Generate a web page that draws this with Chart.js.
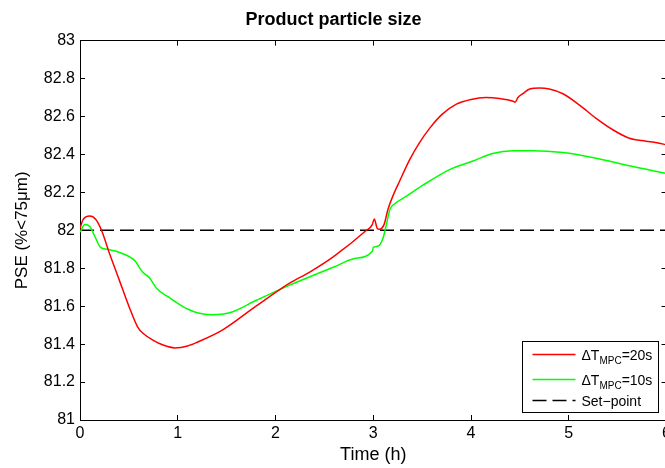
<!DOCTYPE html>
<html>
<head>
<meta charset="utf-8">
<script src="https://cdn.jsdelivr.net/npm/chart.js@4.4.0/dist/chart.umd.min.js"></script>
<style>
  html, body { margin: 0; padding: 0; background: #fff; overflow: hidden; }
  #wrap { width: 680px; height: 468px; }
</style>
</head>
<body>
<div id="wrap"><canvas id="pseChart"></canvas></div>
<script>
// time (h) and PSE values
const timeSlow = [0, 0.03, 0.1, 0.16, 0.22, 0.3, 0.4, 0.5, 0.59, 0.65, 0.75, 0.85, 0.97, 1.1, 1.2, 1.46, 1.8, 2.14, 2.35, 2.59, 2.93, 2.99, 3.01, 3.04, 3.06, 3.11, 3.15, 3.2, 3.27, 3.37, 3.47, 3.58, 3.7, 3.85, 4.0, 4.15, 4.29, 4.43, 4.45, 4.48, 4.53, 4.6, 4.7, 4.8, 4.94, 5.11, 5.28, 5.45, 5.62, 5.79, 5.9, 6.0];
const pseSlow = [82.01, 82.055, 82.075, 82.058, 82.0, 81.88, 81.74, 81.60, 81.49, 81.455, 81.42, 81.395, 81.38, 81.39, 81.41, 81.475, 81.60, 81.72, 81.78, 81.86, 82.0, 82.03, 82.06, 82.01, 82.005, 82.03, 82.11, 82.18, 82.26, 82.37, 82.46, 82.54, 82.61, 82.665, 82.69, 82.70, 82.695, 82.68, 82.675, 82.70, 82.72, 82.745, 82.75, 82.745, 82.72, 82.66, 82.59, 82.53, 82.485, 82.47, 82.462, 82.45];

const timeFast = [0, 0.05, 0.1, 0.15, 0.21, 0.28, 0.42, 0.56, 0.64, 0.71, 0.79, 0.9, 1.0, 1.1, 1.2, 1.35, 1.53, 1.8, 2.14, 2.35, 2.59, 2.8, 2.99, 3.0, 3.05, 3.1, 3.13, 3.17, 3.22, 3.34, 3.5, 3.78, 4.02, 4.22, 4.43, 4.63, 4.94, 5.28, 5.62, 6.0];
const pseFast = [81.99, 82.03, 82.02, 81.97, 81.91, 81.90, 81.88, 81.84, 81.78, 81.75, 81.69, 81.65, 81.615, 81.585, 81.565, 81.555, 81.565, 81.63, 81.71, 81.755, 81.805, 81.85, 81.89, 81.91, 81.917, 81.96, 82.02, 82.11, 82.14, 82.18, 82.235, 82.32, 82.365, 82.405, 82.42, 82.42, 82.41, 82.38, 82.34, 82.30];

const timeSet = [0, 6];
const pseSet = [82, 82];

const seriesLabels = ["ΔT_{MPC}=20s", "ΔT_{MPC}=10s", "Set\u2212point"];
const xTicks = [0, 1, 2, 3, 4, 5, 6];
const yTicks = [81, 81.2, 81.4, 81.6, 81.8, 82, 82.2, 82.4, 82.6, 82.8, 83];

const FONT = "'Liberation Sans', Arial, Helvetica, sans-serif";
Chart.defaults.font.family = FONT;
Chart.defaults.color = "#000";

function toPoints(xs, ys) {
  return xs.map((x, i) => ({ x, y: ys[i] }));
}

// matlab style legend with subscripts
const legendBox = {
  id: "legendBox",
  afterDraw(chart) {
    const { ctx, chartArea } = chart;
    const w = 136, h = 71;
    const x0 = Math.round(chartArea.right - 9 - w) + 0.5;
    const y0 = Math.round(chartArea.bottom - 8 - h) + 0.5;
    const rows = [13, 38, 59];
    ctx.save();
    ctx.fillStyle = "#fff";
    ctx.fillRect(x0, y0, w, h);
    ctx.strokeStyle = "#000";
    ctx.lineWidth = 1;
    ctx.setLineDash([]);
    ctx.strokeRect(x0, y0, w, h);

    chart.data.datasets.forEach((ds, i) => {
      const y = y0 + rows[i];
      ctx.beginPath();
      ctx.setLineDash(ds.borderDash || []);
      ctx.strokeStyle = ds.borderColor;
      ctx.lineWidth = ds.borderWidth;
      ctx.moveTo(x0 + 10, y);
      ctx.lineTo(x0 + 53, y);
      ctx.stroke();
      ctx.setLineDash([]);

      ctx.fillStyle = "#000";
      ctx.textBaseline = "alphabetic";
      ctx.textAlign = "left";
      let tx = x0 + 59;
      const m = ds.label.match(/^(.*?)_\{(.*?)\}(.*)$/);
      if (m) {
        ctx.font = "14px " + FONT;
        ctx.fillText(m[1], tx, y + 5);
        tx += ctx.measureText(m[1]).width;
        ctx.font = "10px " + FONT;
        ctx.fillText(m[2], tx, y + 9);
        tx += ctx.measureText(m[2]).width;
        ctx.font = "14px " + FONT;
        ctx.fillText(m[3], tx, y + 5);
      } else {
        ctx.font = "14px " + FONT;
        ctx.fillText(ds.label, tx, y + 5);
      }
    });
    ctx.restore();
  }
};

const tickGrid = { drawOnChartArea: false, drawTicks: true, tickLength: -5, color: "#000", lineWidth: 1 };
const axisBorder = { display: true, color: "#000", width: 1 };

new Chart(document.getElementById("pseChart"), {
  type: "line",
  data: {
    datasets: [
      {
        label: seriesLabels[0],
        data: toPoints(timeSlow, pseSlow),
        borderColor: "#ff0000",
        borderWidth: 1.5,
        pointRadius: 0,
        cubicInterpolationMode: "monotone"
      },
      {
        label: seriesLabels[1],
        data: toPoints(timeFast, pseFast),
        borderColor: "#00ff00",
        borderWidth: 1.5,
        pointRadius: 0,
        cubicInterpolationMode: "monotone"
      },
      {
        label: seriesLabels[2],
        data: toPoints(timeSet, pseSet),
        borderColor: "#000",
        borderWidth: 1.5,
        borderDash: [14, 6],
        pointRadius: 0
      }
    ]
  },
  options: {
    responsive: true,
    maintainAspectRatio: false,
    animation: false,
    layout: { padding: { left: 0, right: 13, top: 0, bottom: 0 } },
    plugins: {
      legend: { display: false },
      tooltip: { enabled: false },
      title: {
        display: true,
        text: "Product particle size",
        color: "#000",
        font: { size: 18, weight: "bold", family: FONT },
        padding: { top: 9, bottom: 10 }
      }
    },
    scales: {
      x: {
        type: "linear",
        position: "bottom",
        min: 0,
        max: 6,
        afterBuildTicks: s => { s.ticks = xTicks.map(v => ({ value: v })); },
        afterFit: s => { s.height = 48; },
        ticks: { padding: 9, font: { size: 16 }, color: "#000", maxRotation: 0 },
        grid: tickGrid,
        border: axisBorder,
        title: { display: true, text: "Time (h)", font: { size: 18 }, color: "#000", padding: { top: 0, bottom: 2 } }
      },
      x2: {
        type: "linear",
        position: "top",
        min: 0,
        max: 6,
        afterBuildTicks: s => { s.ticks = xTicks.map(v => ({ value: v })); },
        afterFit: s => { s.height = 0; },
        ticks: { display: false },
        grid: tickGrid,
        border: axisBorder
      },
      y: {
        type: "linear",
        position: "left",
        min: 81,
        max: 83,
        afterBuildTicks: s => { s.ticks = yTicks.map(v => ({ value: v })); },
        afterFit: s => { s.width = 80; },
        ticks: { padding: 10, font: { size: 16 }, color: "#000", callback: v => String(+v.toFixed(1)) },
        grid: tickGrid,
        border: axisBorder,
        title: { display: true, text: "PSE (%<75μm)", font: { size: 17 }, color: "#000", padding: { top: 12, bottom: 0 } }
      },
      y2: {
        type: "linear",
        position: "right",
        min: 81,
        max: 83,
        afterBuildTicks: s => { s.ticks = yTicks.map(v => ({ value: v })); },
        afterFit: s => { s.width = 0; },
        ticks: { display: false },
        grid: tickGrid,
        border: axisBorder
      }
    }
  },
  plugins: [legendBox]
});
</script>
</body>
</html>
